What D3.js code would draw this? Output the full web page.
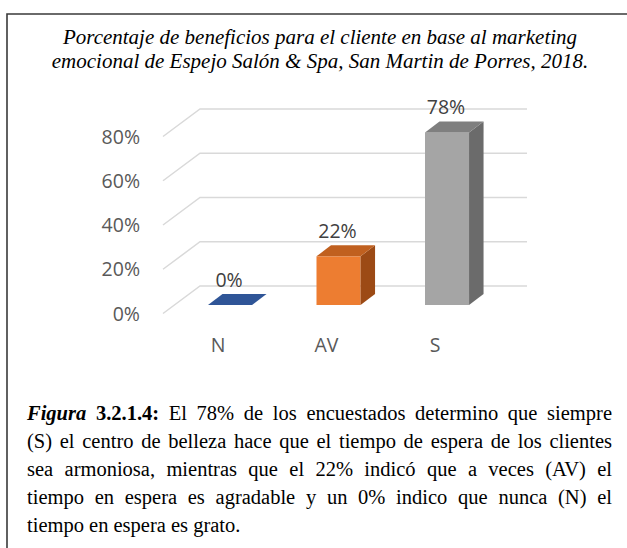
<!DOCTYPE html>
<html><head><meta charset="utf-8">
<script src="https://cdn.jsdelivr.net/npm/d3@7"></script>
<style>body{margin:0;background:#fff}svg{display:block}</style>
</head><body>
<script>
const categories = ["N", "AV", "S"];
const values = [0, 22, 78];
const yTicks = [0, 20, 40, 60, 80];
const titleLines = [
  "Porcentaje de beneficios para el cliente en base al marketing",
  "emocional de Espejo Salón & Spa, San Martin de Porres, 2018."
];
const captionLines = [
  [["Figura", "bi"], ["3.2.1.4:", "b"], "El", "78%", "de", "los", "encuestados", "determino", "que", "siempre"],
  ["(S)", "el", "centro", "de", "belleza", "hace", "que", "el", "tiempo", "de", "espera", "de", "los", "clientes"],
  ["sea", "armoniosa,", "mientras", "que", "el", "22%", "indicó", "que", "a", "veces", "(AV)", "el"],
  ["tiempo", "en", "espera", "es", "agradable", "y", "un", "0%", "indico", "que", "nunca", "(N)", "el"],
  ["tiempo", "en", "espera", "es", "grato."]
];
const frontColors = ["#4472C4", "#ED7D31", "#A5A5A5"];
const topColors = ["#2F5597", "#C0601F", "#7F7F7F"];
const sideColors = ["#203864", "#9C4A15", "#6B6B6B"];

const W = 627, H = 548;
const svg = d3.select("body").append("svg").attr("width", W).attr("height", H);

// frame
svg.append("path").attr("d", `M7,${H} L7,14 L${W},14`).attr("fill", "none")
  .attr("stroke", "#3a3a3a").attr("stroke-width", 1.6);

// title
const title = svg.append("g").attr("font-family", "'Liberation Serif', 'Times New Roman', serif")
  .attr("font-style", "italic").attr("font-size", 21).attr("fill", "#000").attr("text-anchor", "middle");
titleLines.forEach((t, i) => title.append("text").attr("x", 320).attr("y", 44 + i * 24).text(t));

// 3D geometry
const depthX = 37, depthY = -27.5;     // wall depth
const barDX = 14.5, barDY = -11;       // bar depth
const yBack = d3.scaleLinear().domain([0, 80]).range([286, 109]);
const yBar = d3.scaleLinear().domain([0, 80]).range([305, 128]);
const x = d3.scaleBand().domain(categories).range([153.75, 523.3]).paddingInner(0.594).paddingOuter(0.5);
const wallLeft = 200, wallRight = 527;

const grid = svg.append("g").attr("stroke", "#D9D9D9").attr("stroke-width", 1.5).attr("fill", "none");
yTicks.forEach(t => {
  const yb = yBack(t);
  grid.append("path").attr("d", `M${wallLeft - depthX},${yb - depthY} L${wallLeft},${yb} L${wallRight},${yb}`);
});

const chartFont = "'Open Sans', 'Noto Sans', sans-serif";
const yl = svg.append("g").attr("font-family", chartFont).attr("font-size", 19.5).attr("fill", "#595959")
  .attr("text-anchor", "end");
yTicks.forEach(t => {
  yl.append("text").attr("x", 140).attr("y", yBack(t) - depthY).attr("dy", "0.36em").text(t + "%");
});

// bars
const bars = svg.append("g");
categories.forEach((c, i) => {
  const x0 = x(c), x1 = x0 + x.bandwidth();
  const y0 = yBar(0), y1 = yBar(values[i]);
  if (values[i] > 0) {
    bars.append("rect").attr("x", x0).attr("y", y1).attr("width", x1 - x0).attr("height", y0 - y1)
      .attr("fill", frontColors[i]);
    bars.append("path").attr("d", `M${x1},${y1} L${x1 + barDX},${y1 + barDY} L${x1 + barDX},${y0 + barDY} L${x1},${y0} Z`)
      .attr("fill", sideColors[i]);
  }
  bars.append("path").attr("d", `M${x0},${y1} L${x1},${y1} L${x1 + barDX},${y1 + barDY} L${x0 + barDX},${y1 + barDY} Z`)
    .attr("fill", topColors[i]);
});

// data labels
const dl = svg.append("g").attr("font-family", chartFont).attr("font-size", 19.5).attr("fill", "#404040")
  .attr("text-anchor", "middle");
categories.forEach((c, i) => {
  dl.append("text").attr("x", x(c) + x.bandwidth() / 2 - 1).attr("y", yBar(values[i]) + barDY - 7)
    .text(values[i] + "%");
});

// category labels
const cl = svg.append("g").attr("font-family", chartFont).attr("font-size", 19.5).attr("fill", "#595959")
  .attr("text-anchor", "middle");
categories.forEach(c => {
  cl.append("text").attr("x", x(c) + x.bandwidth() / 2 - 12).attr("y", 352).text(c);
});

// caption (justified)
const capL = 27, capR = 612, capTop = 420, capLH = 28;
const cap = svg.append("g").attr("font-family", "'Liberation Serif', 'Times New Roman', serif")
  .attr("font-size", 20.5).attr("fill", "#000");
captionLines.forEach((words, li) => {
  const y = capTop + li * capLH;
  const nodes = words.map(w => {
    const txt = Array.isArray(w) ? w[0] : w;
    const st = Array.isArray(w) ? w[1] : "";
    const t = cap.append("text").attr("y", y).text(txt);
    if (st.includes("b")) t.attr("font-weight", "bold");
    if (st.includes("i")) t.attr("font-style", "italic");
    return t;
  });
  const widths = nodes.map(n => n.node().getComputedTextLength());
  const total = d3.sum(widths);
  const last = li === captionLines.length - 1;
  const gap = last ? 5.1 : (capR - capL - total) / (nodes.length - 1);
  let cx = capL;
  nodes.forEach((n, k) => { n.attr("x", cx); cx += widths[k] + gap; });
});
</script>
</body></html>
